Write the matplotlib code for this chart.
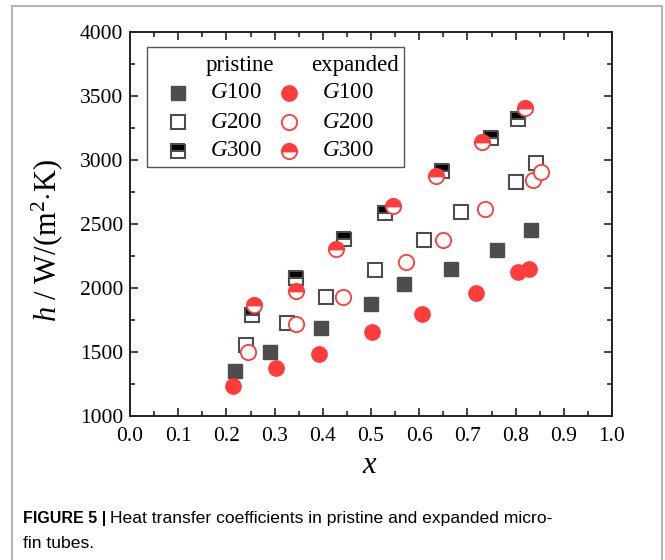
import matplotlib
matplotlib.use('Agg')
import matplotlib.pyplot as plt
from matplotlib.patches import Rectangle
from matplotlib.ticker import MultipleLocator

plt.rcParams['font.family'] = ['Liberation Serif', 'DejaVu Serif']
plt.rcParams['mathtext.fontset'] = 'custom'
plt.rcParams['mathtext.rm'] = 'Liberation Serif'
plt.rcParams['mathtext.it'] = 'Liberation Serif:italic'

# pristine tubes (squares)
x_p100 = [0.217, 0.290, 0.397, 0.499, 0.569, 0.667, 0.762, 0.832]
h_p100 = [1352, 1500, 1688, 1877, 2031, 2148, 2297, 2455]
x_p200 = [0.241, 0.325, 0.407, 0.508, 0.609, 0.686, 0.801, 0.843]
h_p200 = [1555, 1727, 1932, 2143, 2373, 2594, 2826, 2978]
x_p300 = [0.254, 0.344, 0.444, 0.530, 0.648, 0.748, 0.806]
h_p300 = [1789, 2076, 2385, 2588, 2911, 3172, 3320]

# expanded tubes (circles)
x_e100 = [0.213, 0.302, 0.392, 0.503, 0.605, 0.718, 0.806, 0.828]
h_e100 = [1234, 1375, 1482, 1654, 1797, 1961, 2125, 2151]
x_e200 = [0.245, 0.344, 0.441, 0.573, 0.649, 0.736, 0.836, 0.853]
h_e200 = [1497, 1719, 1927, 2203, 2375, 2620, 2844, 2904]
x_e300 = [0.257, 0.344, 0.428, 0.546, 0.635, 0.731, 0.819]
h_e300 = [1867, 1979, 2302, 2639, 2875, 3138, 3404]

xticks = [0.0, 0.1, 0.2, 0.3, 0.4, 0.5, 0.6, 0.7, 0.8, 0.9, 1.0]
yticks = [1000, 1500, 2000, 2500, 3000, 3500, 4000]

gray = '#4d4d4d'
red = '#ff3b3b'

W, H = 665, 560
fig = plt.figure(figsize=(W / 100, H / 100), dpi=100)
ax = fig.add_axes([130 / W, 1 - 416 / H, 482 / W, 384 / H])

sq = dict(marker='s', ms=10.3, ls='none')
ci = dict(marker='o', ms=11, ls='none')
styles = {
    'p100': dict(color=gray, mec=gray, **sq),
    'p200': dict(mfc='white', mec=gray, mew=1.5, **sq),
    'p300': dict(mfc='black', mec=gray, mew=1.5, fillstyle='top',
                 markerfacecoloralt='white', **sq),
    'e100': dict(color=red, mec=red, **ci),
    'e200': dict(mfc='white', mec=red, mew=1.3, **ci),
    'e300': dict(mfc=red, mec=red, mew=1.3, fillstyle='top',
                 markerfacecoloralt='white', **ci),
}
ax.plot(x_p100, h_p100, **styles['p100'])
ax.plot(x_p200, h_p200, **styles['p200'])
ax.plot(x_p300, h_p300, **styles['p300'])
ax.plot(x_e100, h_e100, **styles['e100'])
ax.plot(x_e200, h_e200, **styles['e200'])
ax.plot(x_e300, h_e300, **styles['e300'])

ax.set_xlim(0, 1)
ax.set_ylim(1000, 4000)
ax.set_xticks(xticks)
ax.set_yticks(yticks)
ax.set_xticklabels([f'{v:.1f}' for v in xticks])
ax.xaxis.set_minor_locator(MultipleLocator(0.05))
ax.yaxis.set_minor_locator(MultipleLocator(250))
ax.tick_params(which='both', direction='in', top=True, right=True,
               labelsize=15.5, width=1.2, color='#222222')
ax.tick_params(which='major', length=6)
ax.tick_params(which='minor', length=3.5)
ax.tick_params(axis='x', pad=8)
ax.tick_params(axis='y', pad=5)
for s in ax.spines.values():
    s.set_linewidth(1.4)
    s.set_color('#222222')

ax.set_xlabel(r'$x$', fontsize=22)
ax.xaxis.set_label_coords(0.498, -0.128)
ax.xaxis.label.set_va('center')
ax.set_ylabel(r'$h$ / W/(m$^2$$\cdot$K)', fontsize=22)
ax.yaxis.set_label_coords(-0.172, 0.458)
ax.yaxis.label.set_va('center')


# legend drawn by hand: pixel positions converted to axes fractions
def ax_xy(px, py):
    return (px - 130) / 482, (416 - py) / 384


bx0, by0 = ax_xy(147, 167)
bx1, by1 = ax_xy(404, 47)
ax.add_patch(Rectangle((bx0, by0), bx1 - bx0, by1 - by0,
                       transform=ax.transAxes, facecolor='white',
                       edgecolor='#555555', linewidth=1.0, zorder=5))
fs_leg = 16.5
hx, hy = ax_xy(240, 65)
ax.text(hx, hy, 'pristine', transform=ax.transAxes, fontsize=fs_leg,
        ha='center', va='center', zorder=6)
hx, hy = ax_xy(355, 65)
ax.text(hx, hy, 'expanded', transform=ax.transAxes, fontsize=fs_leg,
        ha='center', va='center', zorder=6)
rows = [('p100', 'e100', r'$G$100', 93),
        ('p200', 'e200', r'$G$200', 122),
        ('p300', 'e300', r'$G$300', 151)]
for kp, ke, lab, py in rows:
    mx, my = ax_xy(178, py)
    ax.plot([mx], [my], transform=ax.transAxes, zorder=6, clip_on=False,
            **styles[kp])
    tx, ty = ax_xy(236, py)
    ax.text(tx, ty, lab, transform=ax.transAxes, fontsize=fs_leg,
            ha='center', va='center', zorder=6)
    mx, my = ax_xy(289, py)
    ax.plot([mx], [my], transform=ax.transAxes, zorder=6, clip_on=False,
            **styles[ke])
    tx, ty = ax_xy(348, py)
    ax.text(tx, ty, lab, transform=ax.transAxes, fontsize=fs_leg,
            ha='center', va='center', zorder=6)

# grey outer border of the figure panel
fig.patches.append(Rectangle((12 / W, -0.1), 650 / W, 1.1 - 6 / H,
                             transform=fig.transFigure, fill=False,
                             edgecolor='#b5b5b5', linewidth=1.5))

# caption
cap_font = ['Liberation Sans', 'DejaVu Sans']
t1 = fig.text(23 / W, 1 - 519 / H, 'FIGURE 5 |', family=cap_font,
              fontsize=11.5, fontweight='bold', va='center', ha='left')
fig.canvas.draw()
bb = t1.get_window_extent()
fig.text((bb.x1 + 4) / W, 1 - 519 / H,
         'Heat transfer coefficients in pristine and expanded micro-',
         family=cap_font, fontsize=12.6, va='center', ha='left')
fig.text(23 / W, 1 - 543 / H, 'fin tubes.', family=cap_font,
         fontsize=12.6, va='center', ha='left')

fig.savefig('out.png', dpi=100)
